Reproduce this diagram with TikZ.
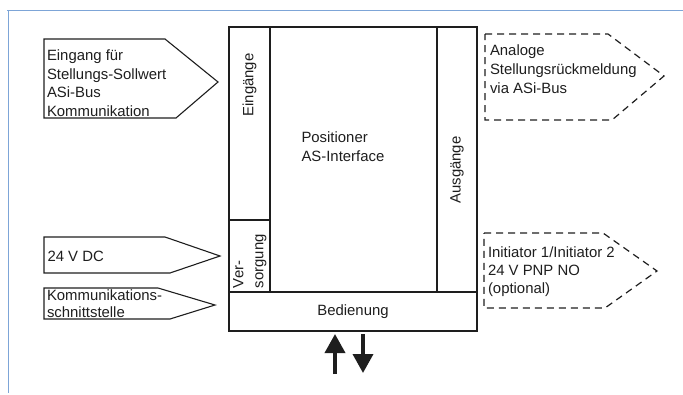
\documentclass[tikz,border=0pt]{standalone}
\usepackage{fontspec}
\setmainfont{Liberation Sans}
\usetikzlibrary{arrows.meta}
\definecolor{frameblue}{RGB}{125,165,215}
\definecolor{ink}{RGB}{30,30,30}
\begin{document}
\begin{tikzpicture}[x=1pt,y=-1pt,line join=miter,
  txt/.style={inner sep=0pt,outer sep=0pt,align=left,text=ink,font=\fontsize{14.9}{18.5}\selectfont},
  solidarrow/.style={draw=ink,line width=1.1pt},
  dasharrow/.style={draw=ink,line width=1.2pt,dash pattern=on 7pt off 5pt},
  boxline/.style={draw=ink,line width=1.2pt},
  bigarrow/.style={draw=ink,line width=3.6pt,-{Triangle[length=19pt,width=20pt]}}]
\useasboundingbox (0,0) rectangle (683,394);
% blue frame
\draw[frameblue,line width=1pt] (7,10) -- (683,10);
\draw[frameblue,line width=1pt] (8,10) -- (8,393);
% main box
\draw[boxline] (229,27) rectangle (477,331);
\draw[boxline] (270,27) -- (270,292);
\draw[boxline] (229,220) -- (270,220);
\draw[boxline] (437,27) -- (437,292);
\draw[boxline] (229,292) -- (477,292);
\node[txt,rotate=90] (eing) at (249.5,85) {Eingänge};
\node[txt,rotate=90] (ausg) at (457,170) {Ausgänge};
\node[txt,rotate=90,anchor=north west,font=\fontsize{14.9}{20}\selectfont] (vers) at (233,288) {Ver-\\sorgung};
\node[txt] (pos) at (301.5,132) [anchor=north west,font=\fontsize{14.9}{19}\selectfont] {Positioner\\AS-Interface};
\node[txt] (bed) at (353,312) {Bedienung};
% left input arrows
\draw[solidarrow] (44,39) -- (165,39) -- (218,82) -- (176,118) -- (44,118) -- cycle;
\draw[solidarrow] (44,237) -- (165,237) -- (220,256) -- (170,273) -- (44,273) -- cycle;
\draw[solidarrow] (44,288) -- (158,288) -- (215,305) -- (170,319) -- (44,319) -- cycle;
\node[txt,anchor=north west] (in1) at (47,50.2) {Eingang für\\Stellungs-Sollwert\\ASi-Bus\\Kommunikation};
\node[txt,anchor=north west] (in2) at (47.5,251.2) {24 V DC};
\node[txt,anchor=north west,font=\fontsize{14.9}{16.5}\selectfont] (in3) at (47,290) {Kommunikations-\\schnittstelle};
% right output arrows (dashed)
\draw[dasharrow] (485,34) -- (608,34) -- (664,76) -- (612,120) -- (485,120) -- cycle;
\draw[dasharrow] (484,233) -- (603,233) -- (657,271) -- (605,308) -- (484,308) -- cycle;
\node[txt,anchor=north west,font=\fontsize{14.9}{19.2}\selectfont] (out1) at (490,44.5) {Analoge\\Stellungsrückmeldung\\via ASi-Bus};
\node[txt,anchor=north west,font=\fontsize{14.9}{18}\selectfont] (out2) at (488,246.8) {Initiator 1/Initiator 2\\24 V PNP NO\\(optional)};
% operating arrows
\coordinate (u1) at (335,374);
\coordinate (u2) at (335,334);
\coordinate (d1) at (363,334);
\coordinate (d2) at (363,373);
\draw[bigarrow] (u1) -- (u2);
\draw[bigarrow] (d1) -- (d2);
\end{tikzpicture}
\end{document}
